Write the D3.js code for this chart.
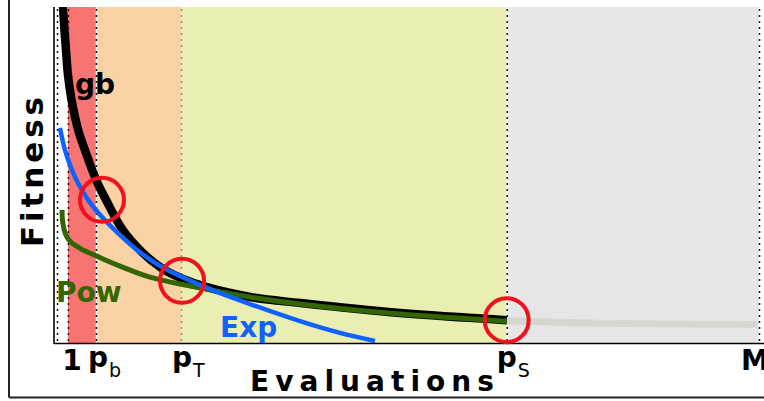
<!DOCTYPE html>
<html>
<head>
<meta charset="utf-8">
<script src="https://cdn.jsdelivr.net/npm/d3@7/dist/d3.min.js"></script>
<style>
  html, body { margin: 0; padding: 0; background: #fff; }
  svg { display: block; font-family: "DejaVu Sans", sans-serif; }
</style>
</head>
<body>
<svg id="chart" width="764" height="401"></svg>
<script>
// Evaluation budget markers (x in evaluations, arbitrary units)
const tickValues = [1, 3.55, 11.3, 41, 64];
const tickLabels = ["1", "p", "p", "p", "M"];
const tickSubs   = ["", "b", "T", "S", ""];
const guideValues = [0, 1, 3.55, 11.3, 41, 64];

// Phase bands between markers
const bandStarts = [1, 3.55, 11.3, 41];
const bandEnds   = [3.55, 11.3, 41, 64];

// Fitness curves (x = evaluations, y = fitness)
const gbX  = [0.50, 0.55, 0.68, 0.82, 1.00, 1.28, 1.64, 2.01, 2.55, 3.10, 3.74, 4.47, 6.20, 9.39, 12.4, 17.6, 22.2, 31.3, 41.0];
const gbY  = [102, 100, 93.2, 87.2, 79.8, 73.2, 67.3, 62.5, 57.4, 52.4, 47.3, 42.6, 32.7, 22.6, 17.9, 13.7, 11.9, 8.9, 6.8];
const tailX = [41.0, 49.5, 63.8];
const tailY = [6.6, 5.9, 5.5];
const expX = [0.27, 0.73, 1.25, 1.91, 2.83, 4.10, 5.56, 7.29, 9.57, 13.67, 17.59, 22.15, 25.8, 28.99];
const expY = [64.0, 57.4, 52.4, 47.6, 42.6, 37.5, 32.7, 27.7, 22.6, 16.4, 11.6, 6.5, 3.0, 0.6];
const powX = [0.46, 0.50, 0.64, 0.82, 1.09, 1.46, 1.91, 2.37, 3.19, 4.19, 5.74, 8.48, 13.04, 17.59, 22.15, 31.3, 41.0];
const powY = [39.6, 36.6, 33.9, 32.1, 30.7, 29.5, 28.6, 27.7, 26.5, 25.0, 22.9, 19.6, 16.4, 13.7, 11.6, 8.6, 6.5];

// Highlighted switch points
const markX = [4.1, 11.4, 41.0];
const markY = [42.6, 18.5, 6.8];

// Styling
const bandColors = ["#f77472", "#fad2a5", "#ebeeb2", "#e6e6e6"];
const tickNudge = [4, 2, 1, 0, -4];

const svg = d3.select("#chart");
const W = 764, H = 401;
const plot = { left: 54, top: 7, right: 759, bottom: 343 };

const x = d3.scaleLinear().domain([0, 64]).range([57, 759]);
const y = d3.scaleLinear().domain([0, 100]).range([plot.bottom, plot.top]);

// Outer frame
svg.append("line").attr("x1", 9).attr("x2", 9).attr("y1", 0).attr("y2", 397.5)
  .attr("stroke", "#222").attr("stroke-width", 2);
svg.append("line").attr("x1", 9).attr("x2", W).attr("y1", 397.5).attr("y2", 397.5)
  .attr("stroke", "#222").attr("stroke-width", 2);

// Bands
svg.append("g").selectAll("rect").data(bandStarts).join("rect")
  .attr("x", (d, i) => x(d))
  .attr("width", (d, i) => x(bandEnds[i]) - x(d))
  .attr("y", plot.top)
  .attr("height", plot.bottom - plot.top)
  .attr("fill", (d, i) => bandColors[i]);

// Guide lines
const guides = svg.append("g");
guides.selectAll("line.under").data([3.55, 41]).join("line")
  .attr("class", "under")
  .attr("x1", d => x(d) + 0.5).attr("x2", d => x(d) + 0.5)
  .attr("y1", plot.top).attr("y2", plot.bottom)
  .attr("stroke", "#fff").attr("stroke-width", 1.2);
guides.selectAll("line.dot").data(guideValues).join("line")
  .attr("class", "dot")
  .attr("x1", d => x(d) + 0.5).attr("x2", d => x(d) + 0.5)
  .attr("y1", plot.top + 2).attr("y2", plot.bottom)
  .attr("stroke", d => d === 11.3 ? "#9a8e78" : "#111")
  .attr("stroke-width", 1.5)
  .attr("stroke-dasharray", "2,4");

// Clip curves to the plotting area
svg.append("defs").append("clipPath").attr("id", "clip")
  .append("rect").attr("x", plot.left).attr("y", plot.top)
  .attr("width", W - plot.left).attr("height", plot.bottom - plot.top);

const line = d3.line().x(d => x(d[0])).y(d => y(d[1])).curve(d3.curveCatmullRom.alpha(0.5));
const zip = (a, b) => a.map((v, i) => [v, b[i]]);

const curves = svg.append("g").attr("clip-path", "url(#clip)");
curves.append("path").datum(zip(tailX, tailY)).attr("d", line)
  .attr("fill", "none").attr("stroke", "#d5d6cf").attr("stroke-width", 7);
curves.append("path").datum(zip(gbX, gbY)).attr("d", line)
  .attr("fill", "none").attr("stroke", "#000").attr("stroke-width", 8.5);
curves.append("path").datum(zip(powX, powY)).attr("d", line)
  .attr("fill", "none").attr("stroke", "#336600").attr("stroke-width", 5);
curves.append("path").datum(zip(expX, expY)).attr("d", line)
  .attr("fill", "none").attr("stroke", "#0f62fe").attr("stroke-width", 4.5);

// Axes
svg.append("line").attr("x1", plot.left).attr("x2", plot.left)
  .attr("y1", plot.top).attr("y2", plot.bottom + 1)
  .attr("stroke", "#000").attr("stroke-width", 1.6);
svg.append("line").attr("x1", plot.left).attr("x2", W)
  .attr("y1", plot.bottom + 0.5).attr("y2", plot.bottom + 0.5)
  .attr("stroke", "#000").attr("stroke-width", 1.6);

// Switch point markers
svg.append("g").selectAll("circle").data(markX).join("circle")
  .attr("cx", d => x(d)).attr("cy", (d, i) => y(markY[i]))
  .attr("r", 22)
  .attr("fill", "none").attr("stroke", "#f0101e").attr("stroke-width", 4);

// Curve labels
svg.append("text").attr("x", 75).attr("y", 94).text("gb")
  .attr("font-size", 28).attr("font-weight", "bold").attr("fill", "#000");
svg.append("text").attr("x", 56).attr("y", 302).text("Pow")
  .attr("font-size", 28).attr("font-weight", "bold").attr("fill", "#336600");
svg.append("text").attr("x", 220).attr("y", 337).text("Exp")
  .attr("font-size", 28).attr("font-weight", "bold").attr("fill", "#0f62fe");

// Tick labels with subscripts
const ticks = svg.append("g");
tickValues.forEach((v, i) => {
  const t = ticks.append("text")
    .attr("x", x(v) + tickNudge[i])
    .attr("y", tickSubs[i] ? 367 : 370)
    .attr("text-anchor", "middle")
    .attr("font-size", 28).attr("font-weight", "bold")
    .text(tickLabels[i]);
  if (tickSubs[i]) {
    const w = t.node().getComputedTextLength();
    ticks.append("text")
      .attr("x", x(v) + tickNudge[i] + w / 2 + 1)
      .attr("y", 377)
      .attr("font-size", 19)
      .text(tickSubs[i]);
  }
});

// Axis titles, spread to their lengths
function spaced(sel, target) {
  const n = sel.text().length;
  const natural = sel.node().getComputedTextLength();
  sel.attr("letter-spacing", (target - natural) / (n - 1));
}
const xt = svg.append("text").attr("x", 250).attr("y", 391)
  .attr("font-size", 28).attr("font-weight", "bold").text("Evaluations");
spaced(xt, 244);
const yt = svg.append("text")
  .attr("transform", "translate(43,247) rotate(-90)")
  .attr("font-size", 31).attr("font-weight", "bold").text("Fitness");
spaced(yt, 150);
</script>
</body>
</html>
